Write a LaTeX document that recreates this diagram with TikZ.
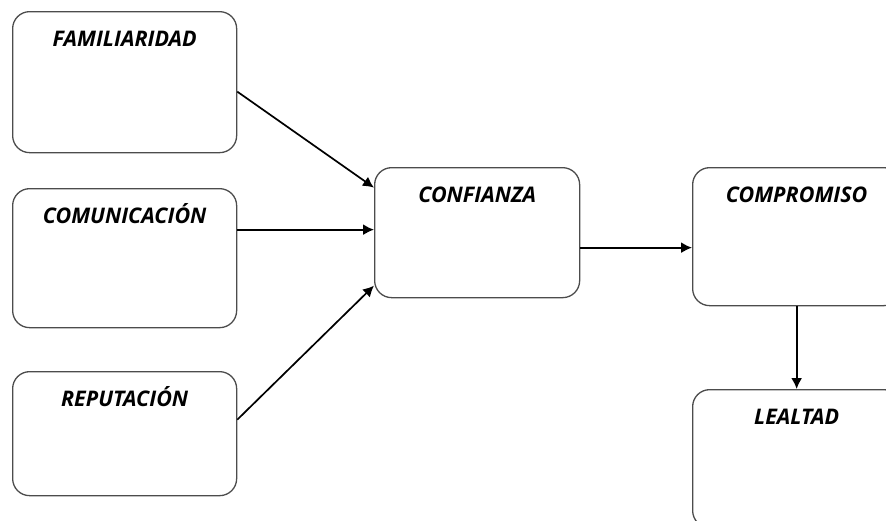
\documentclass[tikz,border=0pt]{standalone}
\usepackage{fontspec}
\setmainfont{Open Sans}
\usepackage{tikz}
\usetikzlibrary{arrows.meta,calc,positioning}
\tikzset{%
	box/.style   = {draw=black!70, line width=1.3pt, rounded corners=17pt, inner sep=0pt, anchor=north west, align=center, text height=35pt, font=\fontsize{21.5}{23}\selectfont\bfseries\itshape},
	arrow/.style = {line width=1.7pt, -{Latex[length=11pt,width=11pt]}},
}
\begin{document}
\begin{tikzpicture}[x=1pt,y=-1pt]
	\useasboundingbox (0,0) rectangle (886,520);
	\clip (0,0) rectangle (886,520);
	% left column
	\node[box, minimum width=224pt, text depth=106pt] (fam) at (12,11) {FAMILIARIDAD};
	\node[box, minimum width=224pt, text depth=104pt] (com) at (12,188) {COMUNICACIÓN};
	\node[box, minimum width=224pt, text depth=89pt] (rep) at (12,371) {REPUTACIÓN};
	% middle and right
	\node[box, minimum width=205pt, text depth=95pt] (conf) at (374,167) {CONFIANZA};
	\node[box, minimum width=208pt, text depth=103pt] (comp) at (692,167) {COMPROMISO};
	\node[box, minimum width=208pt, text depth=103pt] (leal) at (692,389) {LEALTAD};
	
	\draw[arrow] ([yshift=-9.5pt]fam.east) -- ([yshift=45pt]conf.west);
	\draw[arrow] ([yshift=3pt]conf.west -| com.east) -- ([yshift=3pt]conf.west);
	\draw[arrow] ([yshift=14pt]rep.east) -- ([yshift=-53pt]conf.west);
	\draw[arrow] ([yshift=-15pt]conf.east) -- ([yshift=-15pt]conf.east -| comp.west);
	\draw[arrow] (comp.south) -- (leal.north);
\end{tikzpicture}
\end{document}
